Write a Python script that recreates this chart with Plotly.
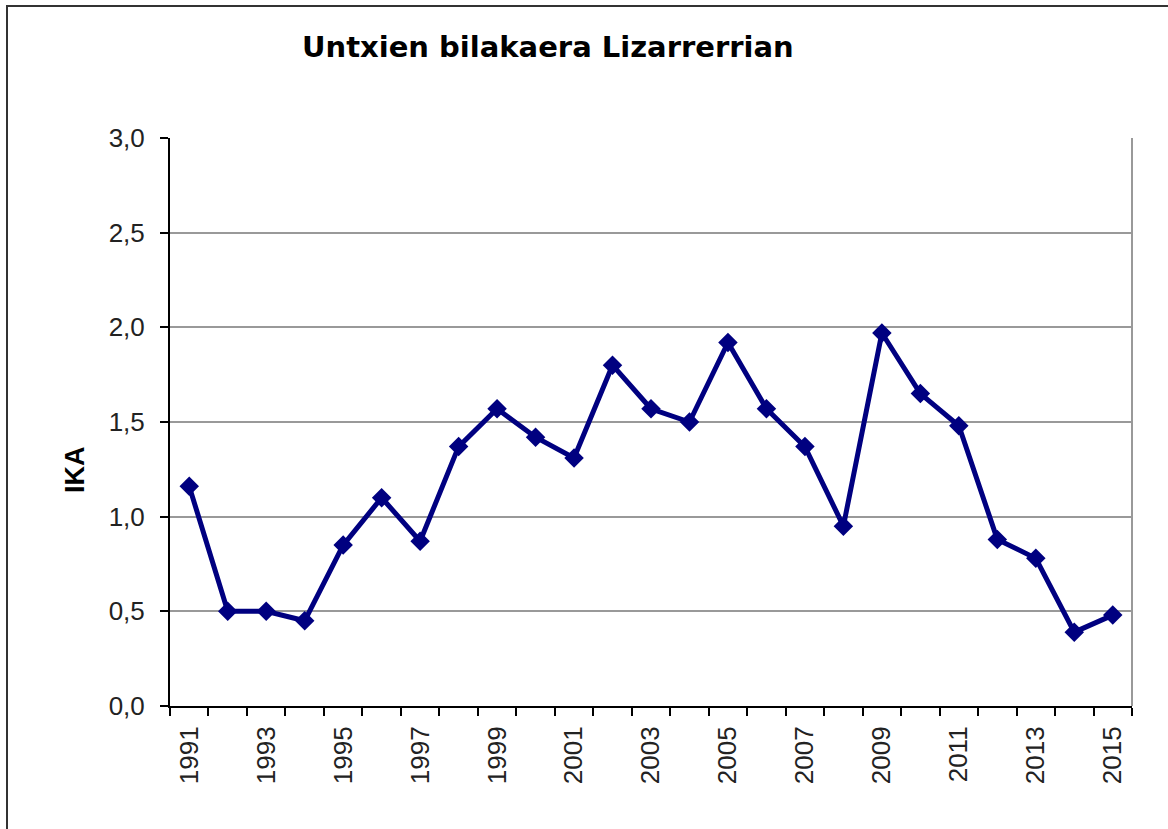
import plotly.graph_objects as go

years = list(range(1991, 2016))
ika = [1.16, 0.50, 0.50, 0.45, 0.85, 1.10, 0.87, 1.37, 1.57, 1.42, 1.31, 1.80, 1.57,
       1.50, 1.92, 1.57, 1.37, 0.95, 1.97, 1.65, 1.48, 0.88, 0.78, 0.39, 0.48]
label_years = list(range(1991, 2016, 2))
y_ticks = [0, 0.5, 1.0, 1.5, 2.0, 2.5, 3.0]

W, H = 1168, 829
L, R, T, B = 170, 36, 138, 123
PW, PH = W - L - R, H - T - B

def px(x):
    return (x - L) / PW

def py(y):
    return (H - B - y) / PH

tick_font = dict(family="Liberation Sans, Arial, sans-serif", size=26, color="#222")

fig = go.Figure()
fig.add_trace(go.Scatter(
    x=years, y=ika, mode="lines+markers",
    line=dict(color="#000080", width=5),
    marker=dict(symbol="diamond", size=15, color="#000080"),
    showlegend=False,
))

fig.update_layout(
    width=W, height=H,
    margin=dict(l=L, r=R, t=T, b=B),
    paper_bgcolor="white", plot_bgcolor="white",
    separators=",.",
    font=dict(family="Liberation Sans, Arial, sans-serif", color="#222"),
)
fig.update_xaxes(
    range=[years[0] - 0.5, years[-1] + 0.5],
    tickvals=label_years, ticktext=[str(y) for y in label_years],
    tickangle=-90, ticks="", showgrid=False,
    ticklabelstandoff=8,
    tickfont=tick_font,
    showline=True, linecolor="black", linewidth=2,
    minor=dict(tickvals=[y - 0.5 for y in years] + [years[-1] + 0.5],
               ticks="outside", ticklen=8, tickwidth=2, tickcolor="black", showgrid=False),
    zeroline=False,
)
fig.update_yaxes(
    range=[0, 3], tickvals=y_ticks, tickformat=".1f",
    ticks="outside", ticklen=8, tickwidth=2, tickcolor="black",
    ticklabelstandoff=10,
    tickfont=tick_font,
    showgrid=True, gridcolor="#999", gridwidth=2,
    showline=True, linecolor="black", linewidth=2,
    zeroline=False,
)
# plot area border (right side)
fig.add_shape(type="line", xref="paper", yref="paper", x0=1, x1=1, y0=0, y1=1,
              line=dict(color="#999", width=2), layer="below")
# outer chart frame
fig.add_shape(type="rect", xref="paper", yref="paper",
              x0=px(7), x1=px(1200), y0=py(860), y1=py(6),
              line=dict(color="#333", width=2))
fig.add_annotation(text="<b>Untxien bilakaera Lizarrerrian</b>", xref="paper", yref="paper",
                   x=px(548), y=py(47), xanchor="center", yanchor="middle",
                   showarrow=False,
                   font=dict(size=29, color="black", family="DejaVu Sans, Liberation Sans, sans-serif"))
fig.add_annotation(text="<b>IKA</b>", xref="paper", yref="paper",
                   x=px(75), y=py(470), xanchor="center", yanchor="middle", textangle=-90,
                   showarrow=False,
                   font=dict(size=27, color="black", family="Liberation Sans, Arial, sans-serif"))

fig.write_html("out.html", config={"displayModeBar": False},
               post_script="document.body.style.margin='0';")
